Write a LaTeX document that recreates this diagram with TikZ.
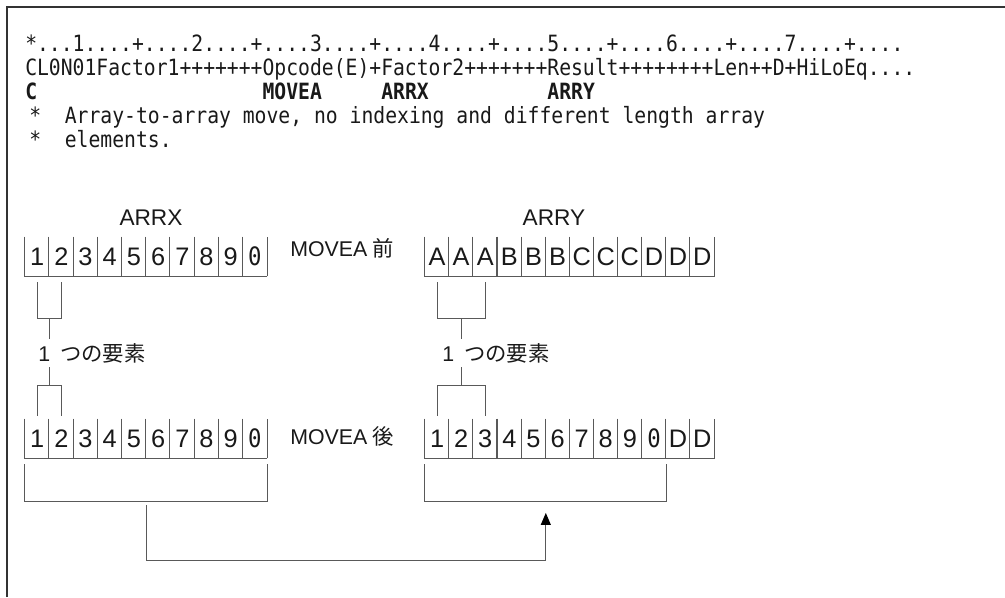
\documentclass[tikz,border=0pt]{standalone}
\usepackage{fontspec}
\setmainfont{Liberation Sans}
\setmonofont[FakeStretch=0.88]{DejaVu Sans Mono}
\newfontfamily\cjk{Noto Sans CJK JP}
\usepackage{tikz}
\usetikzlibrary{arrows.meta,positioning}

\newcommand{\dz}{\texttt{0}}

\begin{document}
\begin{tikzpicture}[x=0.75pt, y=-0.75pt, >={Triangle[length=9pt,width=7.5pt,black]}]

\tikzstyle{cell}=[
    minimum width=18.15pt,
    minimum height=29.25pt,
    inner sep=0pt,
    text=black!90,
    font=\fontsize{19}{19}\selectfont
]
\tikzstyle{wire}=[draw=black!65, line width=0.8pt]
\tikzstyle{code}=[anchor=base west, inner sep=0pt, text=black!90, font=\fontsize{16.8}{18}\ttfamily]
\tikzstyle{lbl}=[inner sep=0pt, text=black!90, font=\fontsize{16}{18}\selectfont]

\useasboundingbox (0,0) rectangle (1005,597);
\draw[black!80, line width=1.5pt] (7,597) -- (7,7) -- (1005,7);

% source lines
\node[code] (L_1) at (25,51) {*...1....+....2....+....3....+....4....+....5....+....6....+....7....+....};
\node[code] (L_2) at (25,75) {CL0N01Factor1+++++++Opcode(E)+Factor2+++++++Result++++++++Len++D+HiLoEq....};
\node[code, font=\fontsize{16.8}{18}\ttfamily\bfseries] (L_3) at (25,99) {C~~~~~~~~~~~~~~~~~~~MOVEA~~~~~ARRX~~~~~~~~~~ARRY};
\node[code] (L_4) at (29,123) {*~~Array-to-array move, no indexing and different length array};
\node[code] (L_5) at (29,147) {*~~elements.};

% arrays before the move
\node[lbl, font=\fontsize{17}{18}\selectfont] (ARRX) at (151,218) {ARRX};
\node[lbl, font=\fontsize{17}{18}\selectfont] (ARRY) at (554,218) {ARRY};
\foreach \t [count=\i] in {1,2,3,4,5,6,7,8,9,\dz} {
    \node[cell] (X_\i) at ({25+24.2*(\i-0.5)},256.5) {\t};
    \draw[wire] (X_\i.north west) -- (X_\i.south west) -- (X_\i.south east);
}
\draw[wire] (X_10.south east) -- (X_10.north east);
\node[lbl, anchor=base west] (Before) at (290,256) {MOVEA\hspace{4pt}{\cjk 前}};
\foreach \t [count=\i] in {A,A,A,B,B,B,C,C,C,D,D,D} {
    \node[cell] (Y_\i) at ({425+24.1*(\i-0.5)},256.5) {\t};
    \draw[wire] (Y_\i.north west) -- (Y_\i.south west) -- (Y_\i.south east);
}
\draw[wire] (Y_12.south east) -- (Y_12.north east);

% one element
\node[lbl, anchor=base west, inner sep=3pt] (E_1) at (34,361) {1\hspace{3pt} {\cjk つの要素}};
\node[lbl, anchor=base west, inner sep=3pt] (E_2) at (438,361) {1\hspace{3pt} {\cjk つの要素}};

% arrays after the move
\foreach \t [count=\i] in {1,2,3,4,5,6,7,8,9,\dz} {
    \node[cell] (XA_\i) at ({25+24.2*(\i-0.5)},438.5) {\t};
    \draw[wire] (XA_\i.north west) -- (XA_\i.south west) -- (XA_\i.south east);
}
\draw[wire] (XA_10.south east) -- (XA_10.north east);
\node[lbl, anchor=base west] (After) at (290,444) {MOVEA\hspace{4pt}{\cjk 後}};
\foreach \t [count=\i] in {1,2,3,4,5,6,7,8,9,\dz,D,D} {
    \node[cell] (YA_\i) at ({425+24.1*(\i-0.5)},438.5) {\t};
    \draw[wire] (YA_\i.north west) -- (YA_\i.south west) -- (YA_\i.south east);
}
\draw[wire] (YA_12.south east) -- (YA_12.north east);

% brackets for ARRX
\draw[wire] ([yshift=-4.5pt]X_1.south) |- ([yshift=-32pt]X_1.south east) -| ([yshift=-4.5pt]X_2.south);
\draw[wire] ([yshift=-32pt]X_1.south east) -- (X_1.south east |- E_1.north);
\draw[wire] (X_1.south east |- E_1.south) -- ([yshift=24.75pt]XA_1.north east);
\draw[wire] ([yshift=2.25pt]XA_1.north) |- ([yshift=24.75pt]XA_1.north east) -| ([yshift=2.25pt]XA_2.north);

% brackets for ARRY
\draw[wire] ([yshift=-4.5pt]Y_1.south) |- ([yshift=-32pt]Y_2.south) -| ([yshift=-4.5pt]Y_3.south);
\draw[wire] ([yshift=-32pt]Y_2.south) -- (Y_2.south |- E_2.north);
\draw[wire] (Y_2.south |- E_2.south) -- ([yshift=24.75pt]YA_2.north);
\draw[wire] ([yshift=2.25pt]YA_1.north) |- ([yshift=24.75pt]YA_2.north) -| ([yshift=2.25pt]YA_3.north);

% the move
\draw[wire] ([yshift=-4.5pt]XA_1.south west) |- ([yshift=-32.25pt]XA_5.south east) -| ([yshift=-4.5pt]XA_10.south east);
\draw[wire] ([yshift=-4.5pt]YA_1.south west) |- ([yshift=-32.25pt]YA_5.south east) -| ([yshift=-4.5pt]YA_10.south east);
\draw[wire, ->] ([yshift=-35.25pt]XA_5.south east) -- ++(0,55) -| ([yshift=-41pt]YA_5.south east);

\end{tikzpicture}
\end{document}
